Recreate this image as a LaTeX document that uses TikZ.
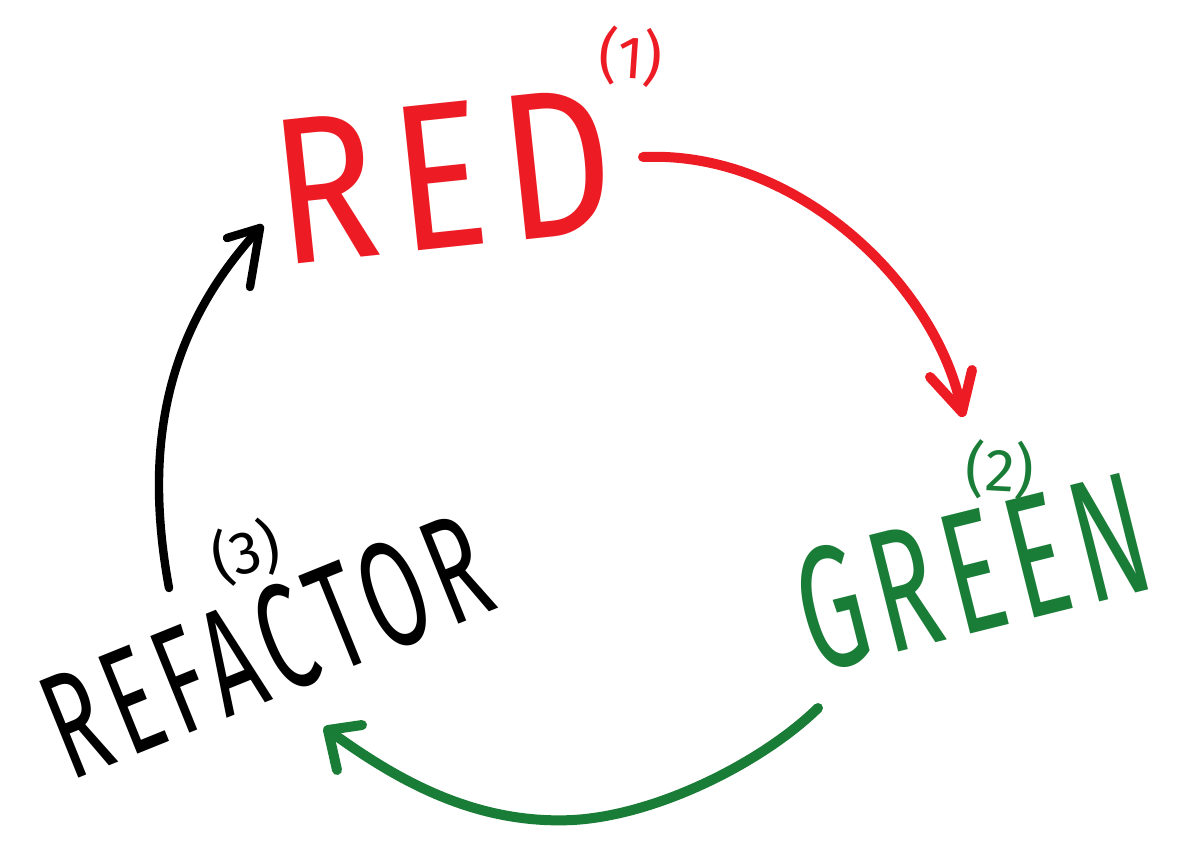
\documentclass[tikz,border=0pt]{standalone}
\usepackage{fontspec}
\usepackage{graphicx}
\setmainfont{Fira Sans}
\newfontfamily\spaced[LetterSpace=10]{Fira Sans}
\definecolor{tddred}{HTML}{ED1C24}
\definecolor{tddgreen}{HTML}{1A7D37}
\begin{document}
\begin{tikzpicture}[x=0.5pt,y=-0.5pt,
  word/.style={inner sep=0pt,outer sep=0pt},
  idx/.style={inner sep=0pt,outer sep=0pt,font=\fontsize{30}{30}\selectfont},
  stroke/.style={line width=5pt,line cap=round,line join=round},
  thin stroke/.style={line width=4.2pt,line cap=round,line join=round}]
\useasboundingbox (0,0) rectangle (1202,851);
\fill[white] (0,0) rectangle (1202,851);
% words
\node[word,tddred,rotate=6] (red) at (443,176) {\resizebox{170pt}{72pt}{\spaced RED}};
\node[idx,tddred,rotate=-4] (i1) at (631,57) {(1)};
\node[word,tddgreen,rotate=14] (green) at (972,572) {\resizebox{177pt}{61pt}{\spaced GREEN}};
\node[idx,tddgreen,rotate=-3] (i2) at (1000,470) {(2)};
\node[word,black,rotate=22] (refactor) at (266,646) {\resizebox{232pt}{53pt}{\spaced REFACTOR}};
\node[idx,black,rotate=15] (i3) at (246,552) {(3)};
% arrow end points
\coordinate (rs) at (643,157);
\coordinate (rt) at (962,412);
\coordinate (gs) at (818,708);
\coordinate (gm) at (573,820);
\coordinate (gt) at (328,730);
\coordinate (bs) at (169,588);
\coordinate (bt) at (260,228);
% red arrow
\draw[stroke,tddred] (rs) .. controls (800,150) and (940,290) .. (rt);
\draw[stroke,tddred] (930,377) -- (rt) -- (972,370);
% green arrow
\draw[stroke,tddgreen] (gs) .. controls (765,760) and (660,815) .. (gm)
   .. controls (470,825) and (390,775) .. (gt);
\draw[stroke,tddgreen] (362,725) -- (gt) -- (337,770);
% black arrow
\draw[thin stroke,black] (bs) .. controls (140,430) and (175,320) .. (bt);
\draw[thin stroke,black] (227,238) -- (bt) -- (250,287);
\end{tikzpicture}
\end{document}
